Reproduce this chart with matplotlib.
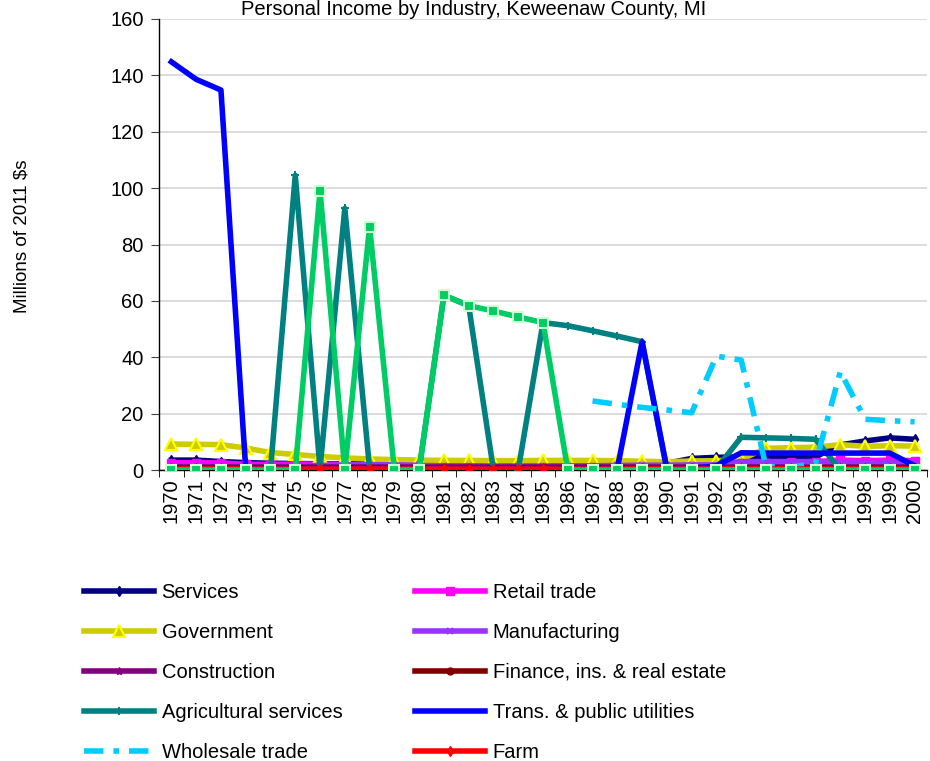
import numpy as np
import matplotlib
matplotlib.use("Agg")
import matplotlib.pyplot as plt

plt.rcParams['font.family'] = ['Liberation Sans', 'DejaVu Sans']

years = list(range(1970, 2001))
nan = np.nan

services = [3.5, 3.5, 3.0, 2.6, 2.4, 2.3, 2.2, 2.2, 2.2, 2.1, 2.0, 2.0, 2.0, 2.0, 2.0, 2.0,
            2.1, 2.1, 2.2, 2.3, 2.4, 4.1, 4.5, 4.6, 4.6, 4.7, 4.7, 8.9, 10.3, 11.4, 10.9]
retail = [2.6, 2.6, 2.5, 2.0, 2.0, 2.1, 2.1, 2.0, 1.9, 1.9, 1.8, 1.8, 1.8, 1.8, 1.7, 1.7,
          1.8, 1.8, 1.8, 1.9, 2.0, 2.0, 2.1, 2.3, 2.6, 2.8, 3.0, 3.5, 3.3, 3.5, 3.3]
government = [9.2, 9.1, 9.0, 7.8, 6.2, 5.5, 4.8, 4.3, 3.9, 3.7, 3.5, 3.4, 3.4, 3.3, 3.3, 3.4,
              3.4, 3.4, 3.3, 3.1, 2.9, 3.2, 3.3, 3.8, 7.7, 7.9, 8.1, 9.0, 8.4, 8.6, 8.5]
manufacturing = [1.5, 1.5, 1.5, 1.4, 1.4, 1.5, 1.6, 1.8, 1.9, 1.8, 1.6, 1.5, 1.5, 1.4, 1.4, 1.4,
                 1.5, 1.5, 1.6, 1.7, 1.7, 1.8, 1.8, 3.0, 3.0, 3.0, 3.0, 2.5, 2.4, 2.5, 2.4]
construction = [1.0] * 31
finance = [0.8] * 31
ag_services = [0, 0, 0, 0, 0, 104.5, 0.5, 92.8, 0.5, 0, 0, 62.0, 58.3, 0, 0, 52.3,
               51.2, 49.4, 47.5, 45.5, 0, 0, 0.5, 11.6, 11.4, 11.2, 10.9, 0, 0, 0, 0]
trans_util = [144.8, 138.6, 134.8, 0.5, 0.5, 0.5, 0.5, 0.5, 0.5, 0.5, 0.5, 0.5, 0.5, 0.5, 0.5, 0.5,
              0.5, 0.5, 0.5, 45.5, 0.5, 0.5, 1.5, 6.1, 6.0, 6.0, 6.0, 6.0, 6.0, 6.0, 1.5]
wholesale = [nan] * 17 + [24.5, 23.3, 22.2, 21.3, 20.3, 40.4, 39.0, 1.2, 1.0, 2.4, 34.9, 18.0, 17.5, 17.1]
farm = [0.3] * 31
mining = [0, 0, 0, 0, 0, 0, 99.0, 0, 86.3, 0, 0, 62.0, 58.3, 56.4, 54.3, 52.3,
          0, 0, 0, 0, 0, 0, 0, 0, 0, 0, 0, 0, 0, 0, 0]

W, H = 930, 761
fig = plt.figure(figsize=(W / 100, H / 100), dpi=100)
ax = fig.add_axes([159 / W, 1 - 470 / H, (927 - 159) / W, (470 - 19) / H])

x = np.arange(len(years))
LW = 4.0
series = [
    ("Services", services, dict(color='#000080', marker='d', ms=5, mfc='#000080', mec='#000080')),
    ("Retail trade", retail, dict(color='#FF00FF', marker='s', ms=6, mfc='#FF00FF', mec='#FF00FF')),
    ("Government", government, dict(color='#CCCC00', marker='^', ms=9, mfc='#CCCC00', mec='#FFFF00', mew=1.5)),
    ("Manufacturing", manufacturing, dict(color='#9933FF', marker='x', ms=5, mec='#9933FF', mew=1.5)),
    ("Construction", construction, dict(color='#800080', marker='*', ms=6, mfc='#800080', mec='#800080')),
    ("Finance, ins. & real estate", finance, dict(color='#800000', marker='o', ms=5, mfc='#800000', mec='#800000')),
    ("Agricultural services", ag_services, dict(color='#008080', marker='+', ms=6, mec='#008080', mew=1.5)),
    ("Trans. & public utilities", trans_util, dict(color='#0000FF')),
    ("Wholesale trade", wholesale, dict(color='#00CCFF', dashes=(3.5, 1.8, 1.0, 1.8))),
    ("Farm", farm, dict(color='#FF0000', marker='d', ms=5, mfc='#FF0000', mec='#FF0000')),
    (None, mining, dict(color='#00CC66', marker='s', ms=7, mfc='#00CC66', mec='#CCFFCC', mew=1.5)),
]

handles = []
for i, (name, vals, kw) in enumerate(series):
    ln, = ax.plot(x, vals, lw=LW, zorder=3 + i * 0.1, solid_joinstyle='round', **kw)
    if name is not None:
        handles.append((name, ln))

ax.set_xlim(-0.5, len(years) - 0.5)
ax.set_ylim(0, 160)
ax.set_yticks(np.arange(0, 161, 20))
ax.set_xticks(x)
ax.set_xticklabels([str(y) for y in years], rotation=90, fontsize=14.5)
ax.set_xticks(np.arange(-0.5, len(years), 1.0), minor=True)
ax.tick_params(axis='x', which='major', length=0, pad=6)
ax.tick_params(axis='x', which='minor', length=5, direction='out', color='black')
ax.tick_params(axis='y', labelsize=14.5, length=6, direction='out', color='#404040', pad=5)
ax.yaxis.grid(True, color='#D9D9D9', lw=1.3, zorder=0)
ax.set_axisbelow(True)
for s in ['top', 'right']:
    ax.spines[s].set_visible(False)
for s in ['left', 'bottom']:
    ax.spines[s].set_color('black')
    ax.spines[s].set_linewidth(1.0)

fig.text(22 / W, 1 - 236 / H, "Millions of 2011 $s", rotation=90, ha='center', va='center', fontsize=13.5)
fig.text(474 / W, 1 - 15 / H, "Personal Income by Industry, Keweenaw County, MI",
         ha='center', va='baseline', fontsize=14.5)

col1 = handles[0::2]
col2 = handles[1::2]
for col, xpos in ((col1, 84), (col2, 415)):
    fig.legend([h for _, h in col], [n for n, _ in col], loc='upper left',
               bbox_to_anchor=(xpos / W, 1 - 583 / H), frameon=False, fontsize=14.5,
               handlelength=3.5, handletextpad=0.35, labelspacing=1.04,
               borderpad=0, borderaxespad=0)

fig.savefig("out.png", dpi=100)
